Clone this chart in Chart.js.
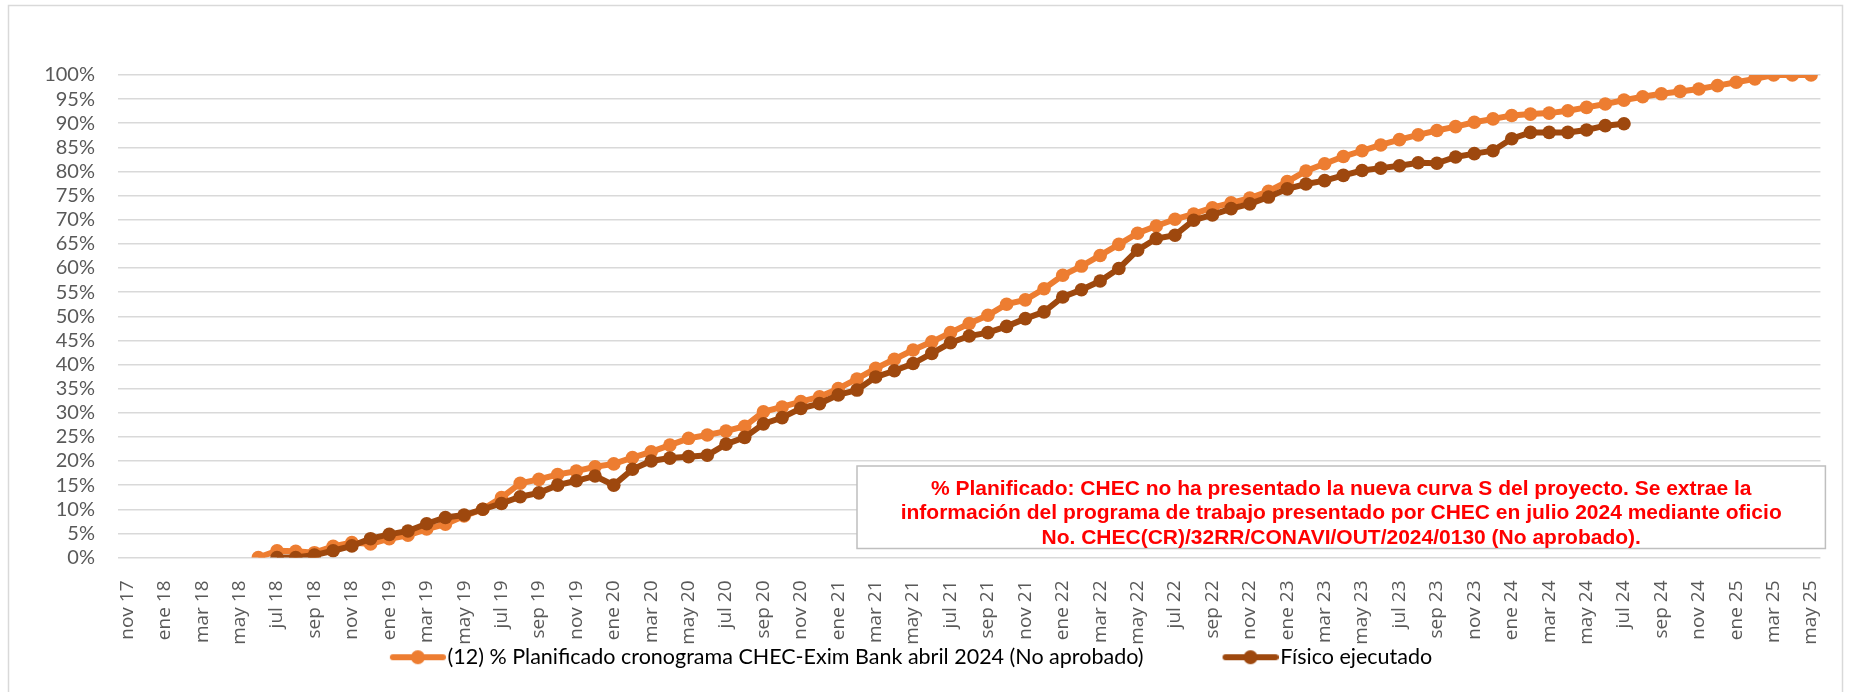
<!DOCTYPE html>
<html>
<head>
<meta charset="utf-8">
<script src="https://cdn.jsdelivr.net/npm/chart.js@4.4.1/dist/chart.umd.min.js"></script>
<style>
  html, body { margin: 0; padding: 0; background: #fff; }
  #wrap { position: relative; width: 1849px; height: 692px; }
</style>
</head>
<body>
<div id="wrap"><canvas id="curvaS"></canvas></div>
<script>
// Meses del eje X (nov 17 - may 25)
const meses = [
  'nov 17', 'dic 17',
  'ene 18', 'feb 18', 'mar 18', 'abr 18', 'may 18', 'jun 18', 'jul 18', 'ago 18', 'sep 18', 'oct 18', 'nov 18', 'dic 18',
  'ene 19', 'feb 19', 'mar 19', 'abr 19', 'may 19', 'jun 19', 'jul 19', 'ago 19', 'sep 19', 'oct 19', 'nov 19', 'dic 19',
  'ene 20', 'feb 20', 'mar 20', 'abr 20', 'may 20', 'jun 20', 'jul 20', 'ago 20', 'sep 20', 'oct 20', 'nov 20', 'dic 20',
  'ene 21', 'feb 21', 'mar 21', 'abr 21', 'may 21', 'jun 21', 'jul 21', 'ago 21', 'sep 21', 'oct 21', 'nov 21', 'dic 21',
  'ene 22', 'feb 22', 'mar 22', 'abr 22', 'may 22', 'jun 22', 'jul 22', 'ago 22', 'sep 22', 'oct 22', 'nov 22', 'dic 22',
  'ene 23', 'feb 23', 'mar 23', 'abr 23', 'may 23', 'jun 23', 'jul 23', 'ago 23', 'sep 23', 'oct 23', 'nov 23', 'dic 23',
  'ene 24', 'feb 24', 'mar 24', 'abr 24', 'may 24', 'jun 24', 'jul 24', 'ago 24', 'sep 24', 'oct 24', 'nov 24', 'dic 24',
  'ene 25', 'feb 25', 'mar 25', 'abr 25', 'may 25'
];

// % planificado (cronograma CHEC-Exim Bank abril 2024), empieza jun 18
const planificado = [
  null, null, null, null, null, null, null, 0.0, 1.4, 1.3, 1.0, 2.3, 3.1, 2.8,
  3.9, 4.6, 5.9, 6.9, 8.6, 10.0, 12.4, 15.4, 16.2, 17.2, 17.9, 18.8,
  19.4, 20.7, 21.9, 23.3, 24.7, 25.4, 26.2, 27.2, 30.2, 31.2, 32.3, 33.3,
  35.0, 37.0, 39.2, 41.1, 43.0, 44.7, 46.6, 48.5, 50.2, 52.5, 53.4, 55.7,
  58.5, 60.4, 62.6, 64.9, 67.2, 68.7, 70.1, 71.2, 72.5, 73.5, 74.5, 75.9,
  77.9, 80.1, 81.6, 83.1, 84.3, 85.5, 86.6, 87.6, 88.5, 89.3, 90.2, 90.9,
  91.6, 91.9, 92.1, 92.6, 93.3, 94.0, 94.8, 95.5, 96.1, 96.6, 97.1, 97.8,
  98.5, 99.2, 100, 100, 100
];

// % físico ejecutado, jul 18 - jul 24
const ejecutado = [
  null, null, null, null, null, null, null, null, 0.0, 0.0, 0.5, 1.4, 2.4, 3.9,
  4.8, 5.5, 7.0, 8.3, 8.8, 10.0, 11.2, 12.6, 13.4, 15.0, 15.9, 16.9,
  15.0, 18.3, 20.0, 20.6, 20.9, 21.2, 23.5, 24.9, 27.7, 29.0, 30.9, 31.9,
  33.7, 34.7, 37.4, 38.7, 40.2, 42.3, 44.5, 45.9, 46.6, 47.9, 49.5, 50.9,
  54.0, 55.5, 57.3, 59.9, 63.7, 66.1, 66.8, 69.9, 71.0, 72.3, 73.3, 74.7,
  76.4, 77.4, 78.1, 79.2, 80.2, 80.7, 81.2, 81.8, 81.7, 83.0, 83.7, 84.3,
  86.8, 88.1, 88.1, 88.1, 88.6, 89.5, 89.9
];

const nombrePlan = '(12) % Planificado cronograma CHEC-Exim Bank abril 2024 (No aprobado)';
const nombreEjec = 'Físico ejecutado';

const notaLineas = [
  '% Planificado: CHEC no ha presentado la nueva curva S del proyecto. Se extrae la',
  'información del programa de trabajo presentado por CHEC en julio 2024 mediante oficio',
  'No. CHEC(CR)/32RR/CONAVI/OUT/2024/0130 (No aprobado).'
];

const NARANJA = '#ED7D31';
const CAFE = '#9E480E';

// icono de leyenda: linea con punto al centro
function iconoLeyenda(color) {
  const c = document.createElement('canvas');
  c.width = 64; c.height = 16;
  const g = c.getContext('2d');
  g.strokeStyle = color;
  g.lineWidth = 6;
  g.lineCap = 'round';
  g.beginPath(); g.moveTo(11, 8); g.lineTo(61, 8); g.stroke();
  g.fillStyle = color;
  g.beginPath(); g.arc(36, 8, 7, 0, Math.PI * 2); g.fill();
  return c;
}

// marco exterior + cuadro de nota
const extras = {
  id: 'extras',
  beforeDraw(chart) {
    const ctx = chart.ctx;
    ctx.save();
    ctx.strokeStyle = '#d9d9d9';
    ctx.lineWidth = 1.5;
    ctx.strokeRect(8.5, 5.5, 1834, 720);
    ctx.restore();
  },
  afterDraw(chart) {
    const ctx = chart.ctx;
    const a = chart.chartArea;
    const x0 = 857, y0 = 466, x1 = a.right + 5, y1 = a.bottom - 9;
    ctx.save();
    ctx.fillStyle = '#fff';
    ctx.fillRect(x0, y0, x1 - x0, y1 - y0);
    ctx.strokeStyle = '#bfbfbf';
    ctx.lineWidth = 1.5;
    ctx.strokeRect(x0, y0, x1 - x0, y1 - y0);
    ctx.fillStyle = '#FF0000';
    ctx.font = 'bold 21px "Liberation Sans", Arial, sans-serif';
    ctx.textAlign = 'center';
    ctx.textBaseline = 'middle';
    const cx = (x0 + x1) / 2;
    notaLineas.forEach((t, i) => ctx.fillText(t, cx, 489 + i * 24.5));
    ctx.restore();
  }
};

const ctx = document.getElementById('curvaS').getContext('2d');
const chart = new Chart(ctx, {
  type: 'line',
  data: {
    labels: meses,
    datasets: [
      {
        label: nombrePlan,
        data: planificado,
        borderColor: NARANJA,
        backgroundColor: NARANJA,
        borderWidth: 6,
        pointRadius: 6.8,
        pointBorderWidth: 0,
        pointHoverRadius: 7,
        tension: 0,
        order: 1
      },
      {
        label: nombreEjec,
        data: ejecutado,
        borderColor: CAFE,
        backgroundColor: CAFE,
        borderWidth: 6,
        pointRadius: 6.8,
        pointBorderWidth: 0,
        pointHoverRadius: 7,
        tension: 0,
        order: 0
      }
    ]
  },
  options: {
    responsive: true,
    maintainAspectRatio: false,
    animation: false,
    layout: { padding: { left: 0, right: 26, top: 75, bottom: 14 } },
    plugins: {
      tooltip: { enabled: false },
      legend: {
        position: 'bottom',
        labels: {
          usePointStyle: true,
          pointStyleWidth: 46,
          padding: 3,
          color: '#595959',
          font: { family: 'Lato, "Open Sans", sans-serif', size: 21.5 },
          generateLabels(chart) {
            return chart.data.datasets.map((ds, i) => ({
              text: i === 0 ? ds.label + ' '.repeat(14) : ds.label,
              fillStyle: ds.borderColor,
              strokeStyle: ds.borderColor,
              lineWidth: 0,
              pointStyle: iconoLeyenda(ds.borderColor),
              hidden: !chart.isDatasetVisible(i),
              datasetIndex: i
            }));
          }
        }
      }
    },
    scales: {
      x: {
        offset: true,
        grid: { display: false },
        border: { display: false },
        ticks: {
          autoSkip: false,
          minRotation: 90,
          maxRotation: 90,
          padding: 15,
          color: '#595959',
          font: { family: '"Open Sans", sans-serif', size: 19 },
          callback: (v, i) => (i % 2 === 0 ? meses[i] : '')
        },
        afterFit(scale) { scale.height = 86; }
      },
      y: {
        min: 0,
        max: 100,
        grid: { color: '#d9d9d9', lineWidth: 1.5, drawTicks: false },
        border: { display: false },
        ticks: {
          stepSize: 5,
          autoSkip: false,
          padding: 23,
          color: '#595959',
          font: { family: 'Lato, sans-serif', size: 20 },
          callback: v => v + '%'
        },
        afterFit(scale) { scale.width = 118; }
      }
    }
  },
  plugins: [extras]
});
</script>
</body>
</html>
